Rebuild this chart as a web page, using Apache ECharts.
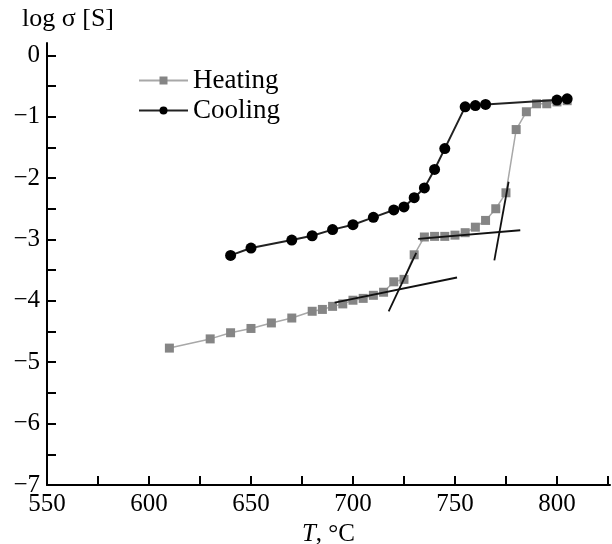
<!DOCTYPE html>
<html>
<head>
<meta charset="utf-8">
<script src="https://cdn.jsdelivr.net/npm/echarts@6/dist/echarts.min.js"></script>
<style>
  html, body { margin: 0; padding: 0; background: #fff; }
  #chart { width: 612px; height: 544px; }
</style>
</head>
<body>
<div id="chart"></div>
<script>
// heating run, [T, log sigma]
var heating = [
    [610, -4.77], [630, -4.62], [640, -4.52], [650, -4.45], [660, -4.36], [670, -4.28],
    [680, -4.17], [685, -4.14], [690, -4.09], [695, -4.05], [700, -3.99], [705, -3.96],
    [710, -3.91], [715, -3.86], [720, -3.69], [725, -3.65], [730, -3.25], [735, -2.96],
    [740, -2.95], [745, -2.95], [750, -2.93], [755, -2.89], [760, -2.80], [765, -2.69],
    [770, -2.50], [775, -2.24], [780, -1.21], [785, -0.92], [790, -0.79], [795, -0.79],
    [800, -0.76], [805, -0.74]
];
// cooling run
var cooling = [
    [640, -3.26], [650, -3.14], [670, -3.01], [680, -2.94], [690, -2.84], [700, -2.76],
    [710, -2.64], [720, -2.52], [725, -2.47], [730, -2.32], [735, -2.16], [740, -1.86],
    [745, -1.52], [755, -0.84], [760, -0.82], [765, -0.80], [800, -0.73], [805, -0.71]
];
// straight construction lines (tangents)
var tangents = [
    [[691, -4.03], [751, -3.62]],
    [[717.5, -4.17], [731, -3.22]],
    [[732, -2.99], [782, -2.85]],
    [[769.3, -3.34], [776.3, -2.06]]
];
var xTicks = [550, 575, 600, 625, 650, 675, 700, 725, 750, 775, 800, 825];
var xLabels = [550, 600, 650, 700, 750, 800];
var yTicks = [-7, -6.5, -6, -5.5, -5, -4.5, -4, -3.5, -3, -2.5, -2, -1.5, -1, -0.5, 0];
var yLabels = [-7, -6, -5, -4, -3, -2, -1, 0];

var serif = '"Liberation Serif", "DejaVu Serif", serif';

var series = [
    {
        name: 'Heating',
        type: 'line',
        data: heating,
        symbol: 'rect',
        symbolSize: 9,
        itemStyle: { color: '#858585' },
        lineStyle: { color: '#a8a8a8', width: 1.5 },
        z: 2
    },
    {
        name: 'Cooling',
        type: 'line',
        data: cooling,
        symbol: 'circle',
        symbolSize: 11,
        itemStyle: { color: '#000' },
        lineStyle: { color: '#222', width: 2 },
        z: 4
    }
];
for (let i = 0; i < tangents.length; i++) {
    series.push({
        name: 't' + i,
        type: 'line',
        data: tangents[i],
        symbol: 'none',
        silent: true,
        lineStyle: { color: '#111', width: 1.8 },
        z: 3
    });
}

var chart = echarts.init(document.getElementById('chart'));
chart.setOption({
    animation: false,
    backgroundColor: '#fff',
    grid: { left: 47, right: 2, top: 43, bottom: 59, containLabel: false, outerBoundsMode: 'none' },
    title: {
        text: 'log σ [S]',
        left: 22,
        top: 6,
        padding: 0,
        textStyle: { fontFamily: serif, fontSize: 26, fontWeight: 'normal', color: '#000' }
    },
    legend: {
        data: ['Heating', 'Cooling'],
        orient: 'vertical',
        left: 138,
        top: 67,
        padding: 0,
        itemWidth: 49,
        itemHeight: 10,
        itemGap: 3,
        textStyle: { fontFamily: serif, fontSize: 27, lineHeight: 27, color: '#000' }
    },
    xAxis: {
        type: 'value',
        min: 550,
        max: 826,
        name: '{i|T}, °C',
        nameLocation: 'middle',
        nameGap: 29,
        nameTextStyle: {
            fontFamily: serif, fontSize: 25, color: '#000',
            rich: { i: { fontFamily: serif, fontSize: 25, fontStyle: 'italic', color: '#000' } }
        },
        splitLine: { show: false },
        axisLine: { onZero: false, lineStyle: { color: '#000', width: 2 } },
        axisTick: { inside: true, length: 9, customValues: xTicks, lineStyle: { color: '#000', width: 2 } },
        axisLabel: {
            customValues: xLabels,
            margin: 7,
            fontFamily: serif, fontSize: 25, color: '#000'
        }
    },
    yAxis: {
        type: 'value',
        min: -7,
        max: 0.2,
        splitLine: { show: false },
        axisLine: { onZero: false, lineStyle: { color: '#000', width: 2 } },
        axisTick: { inside: true, length: 9, customValues: yTicks, lineStyle: { color: '#000', width: 2 } },
        axisLabel: {
            customValues: yLabels,
            margin: 7,
            fontFamily: serif, fontSize: 25, color: '#000',
            formatter: function (v) { return String(v).replace('-', '\u2212'); }
        }
    },
    series: series
});
</script>
</body>
</html>
